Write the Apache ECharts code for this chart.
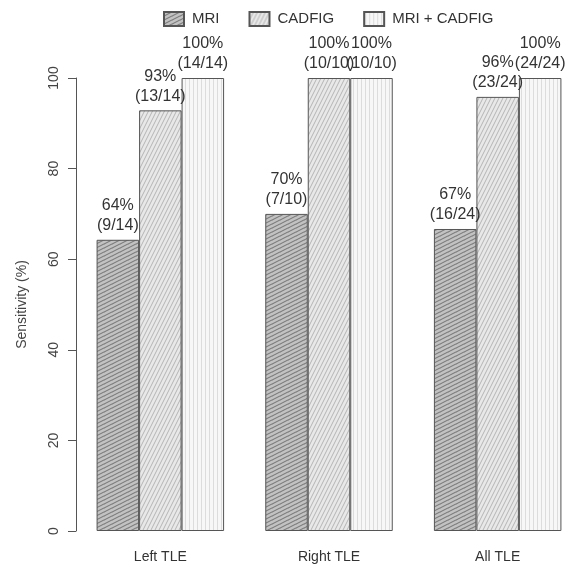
<!DOCTYPE html>
<html><head><meta charset="utf-8">
<script src="https://cdn.jsdelivr.net/npm/echarts@6/dist/echarts.min.js"></script>
<style>html,body{margin:0;padding:0;background:#fff}#c{width:582px;height:564px}</style>
</head><body><div id="c"></div>
<script>
const categories = ['Left TLE', 'Right TLE', 'All TLE'];
const seriesNames = ['MRI', 'CADFIG', 'MRI + CADFIG'];
const mriValues = [64.29, 70, 66.67];
const cadfigValues = [92.86, 100, 95.83];
const combinedValues = [100, 100, 100];
const mriCounts = ['9/14', '7/10', '16/24'];
const cadfigCounts = ['13/14', '10/10', '23/24'];
const combinedCounts = ['14/14', '10/10', '24/24'];
const yTicks = [0, 20, 40, 60, 80, 100];

function diagTile(w, h, bg, fg, lw) {
  const c = document.createElement('canvas');
  c.width = w; c.height = h;
  const g = c.getContext('2d');
  g.fillStyle = bg; g.fillRect(0, 0, w, h);
  g.strokeStyle = fg; g.lineWidth = lw;
  for (let dx = -w; dx <= w; dx += w) {
    for (let dy = -h; dy <= h; dy += h) {
      g.beginPath(); g.moveTo(dx, h + dy); g.lineTo(w + dx, dy); g.stroke();
    }
  }
  return c;
}
function vertTile(w, h, bg, fg, lw) {
  const c = document.createElement('canvas');
  c.width = w; c.height = h;
  const g = c.getContext('2d');
  g.fillStyle = bg; g.fillRect(0, 0, w, h);
  g.strokeStyle = fg; g.lineWidth = lw;
  g.beginPath(); g.moveTo(1.5, 0); g.lineTo(1.5, h); g.stroke();
  return c;
}
const patterns = [
  { image: diagTile(8, 4, '#c2c2c2', '#7a7a7a', 1.1), repeat: 'repeat' },
  { image: diagTile(4, 8, '#e8e8e8', '#b4b4b4', 1.0), repeat: 'repeat' },
  { image: vertTile(4, 4, '#f7f7f7', '#dcdcdc', 1.0), repeat: 'repeat' }
];
const allValues = [mriValues, cadfigValues, combinedValues];
const allCounts = [mriCounts, cadfigCounts, combinedCounts];
const FONT = "'Liberation Sans', Arial, sans-serif";

const chart = echarts.init(document.getElementById('c'));
chart.setOption({
  animation: false,
  backgroundColor: '#fff',
  textStyle: { fontFamily: FONT },
  legend: {
    left: 163, top: 11, padding: 0, itemWidth: 20, itemHeight: 14, itemGap: 29,
    icon: 'rect',
    textStyle: { fontSize: 15, color: '#333', fontFamily: FONT, padding: [0, 0, 0, 3] },
    data: seriesNames
  },
  grid: { left: 76, top: 78, width: 511.5, height: 454 },
  xAxis: {
    type: 'category', data: categories,
    axisLine: { show: false }, axisTick: { show: false },
    axisLabel: { fontSize: 14, color: '#333', margin: 19, fontFamily: FONT }
  },
  yAxis: {
    type: 'value', min: 0, max: 100, interval: 20,
    name: 'Sensitivity (%)', nameLocation: 'middle', nameRotate: 90, nameGap: 47,
    nameTextStyle: { fontSize: 14, color: '#444', fontFamily: FONT },
    axisLine: { show: true, lineStyle: { color: '#555', width: 1 } },
    axisTick: { show: true, length: 8, lineStyle: { color: '#555' } },
    axisLabel: { rotate: 90, fontSize: 14, color: '#444', margin: 15, fontFamily: FONT,
      formatter: v => yTicks.includes(v) ? String(v) : '' },
    splitLine: { show: false }
  },
  series: seriesNames.map((name, i) => ({
    name, type: 'bar', data: allValues[i], barWidth: 42.5, barGap: '0%',
    itemStyle: { color: patterns[i], borderColor: '#555', borderWidth: 1 },
    label: {
      show: true, position: 'top', distance: 4,
      formatter: p => Math.round(p.value) + '%\n(' + allCounts[i][p.dataIndex] + ')',
      fontSize: 16, lineHeight: 20, color: '#333', fontFamily: FONT
    }
  }))
});
</script></body></html>
